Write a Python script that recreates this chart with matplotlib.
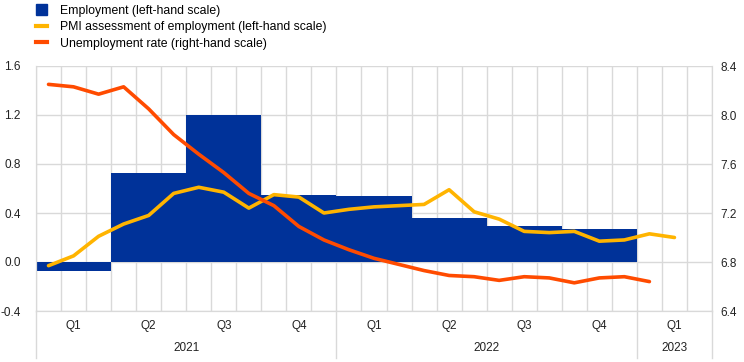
import numpy as np
import matplotlib.pyplot as plt
from matplotlib.lines import Line2D
from matplotlib.patches import Patch
from matplotlib.transforms import blended_transform_factory

plt.rcParams["font.family"] = ["Liberation Sans", "DejaVu Sans"]
plt.rcParams["font.size"] = 8.5

# quarterly employment growth (bars, left-hand scale), Q1 2021 - Q4 2022
employment = [-0.07, 0.73, 1.20, 0.55, 0.54, 0.36, 0.29, 0.27]

# monthly PMI assessment of employment (left-hand scale), Jan 2021 - Feb 2023
pmi = [-0.03, 0.05, 0.21, 0.31, 0.38, 0.56, 0.61, 0.57, 0.44, 0.55, 0.53, 0.40,
       0.43, 0.45, 0.46, 0.47, 0.59, 0.41, 0.35, 0.25, 0.24, 0.25, 0.17, 0.18,
       0.23, 0.20]

# monthly unemployment rate (right-hand scale), Jan 2021 - Jan 2023
unemp = [8.25, 8.23, 8.17, 8.23, 8.05, 7.84, 7.68, 7.53, 7.36, 7.26, 7.09, 6.98,
         6.90, 6.83, 6.78, 6.73, 6.69, 6.68, 6.65, 6.68, 6.67, 6.63, 6.67, 6.68,
         6.64]

quarter_labels = ["Q1", "Q2", "Q3", "Q4", "Q1", "Q2", "Q3", "Q4", "Q1"]
year_labels = ["2021", "2022", "2023"]
year_spans = [(0, 12), (12, 24), (24, 27)]

blue = "#003299"
yellow = "#FFB400"
orange = "#FF4B00"
grid_col = "#d9d9d9"
text_col = "#222222"

fig = plt.figure(figsize=(7.44, 3.62), dpi=100)
ax = fig.add_axes([36 / 744, 1 - 311 / 362, 676 / 744, 245 / 362])
ax2 = ax.twinx()

n_months = 27
ax.set_xlim(0, n_months)
ax.set_ylim(-0.4, 1.6)
ax2.set_ylim(6.4, 8.4)

left_ticks = np.arange(-0.4, 1.61, 0.4)
right_ticks = np.arange(6.4, 8.41, 0.4)
ax.set_yticks(left_ticks)
ax.set_yticklabels([f"{v:.1f}" for v in left_ticks])
ax2.set_yticks(right_ticks)
ax2.set_yticklabels([f"{v:.1f}" for v in right_ticks])

ax.set_xticks(np.arange(0, n_months + 1))
ax.set_xticklabels([])
ax.tick_params(axis="x", length=0)
ax.tick_params(axis="y", length=0, pad=11, colors=text_col)
ax2.tick_params(axis="y", length=0, pad=6, colors=text_col)

ax.grid(True, color=grid_col, linewidth=1)
ax.set_axisbelow(True)
for a in (ax, ax2):
    for s in a.spines.values():
        s.set_color(grid_col)
    a.spines["top"].set_visible(False)

# bars
qx = np.arange(len(employment)) * 3
ax.bar(qx, employment, width=3, align="edge", color=blue, zorder=2, linewidth=0)

# lines
mx_pmi = np.arange(len(pmi)) + 0.5
mx_un = np.arange(len(unemp)) + 0.5
ax2.set_zorder(ax.get_zorder() + 1)
ax2.patch.set_visible(False)
ax.plot(mx_pmi, pmi, color=yellow, linewidth=2.6, zorder=3, solid_capstyle="round")
ax2.plot(mx_un, unemp, color=orange, linewidth=2.6, zorder=3, solid_capstyle="round")

# category axis labels
trans = blended_transform_factory(ax.transData, fig.transFigure)
for i, lab in enumerate(quarter_labels):
    ax.text(i * 3 + 1.5, 1 - 326 / 362, lab, transform=trans, ha="center",
            va="center", color=text_col)
for lab, (a, b) in zip(year_labels, year_spans):
    ax.text((a + b) / 2, 1 - 348 / 362, lab, transform=trans, ha="center",
            va="center", color=text_col)
for xv in [0, 12, 24, 27]:
    fig.add_artist(Line2D([xv, xv], [1 - 311 / 362, 1 - 358 / 362],
                          transform=trans, color=grid_col, linewidth=1))

# legend
handles = [
    Patch(facecolor=blue, edgecolor=blue),
    Line2D([0], [0], color=yellow, linewidth=3),
    Line2D([0], [0], color=orange, linewidth=3),
]
labels = ["Employment (left-hand scale)",
          "PMI assessment of employment (left-hand scale)",
          "Unemployment rate (right-hand scale)"]
fig.legend(handles, labels, loc="upper left", bbox_to_anchor=(0.038, 1.008),
           frameon=False, fontsize=8.8, handlelength=0.9, handleheight=0.9,
           handletextpad=1.1, labelspacing=0.35, borderaxespad=0.2)

fig.savefig("out.png", dpi=100)
